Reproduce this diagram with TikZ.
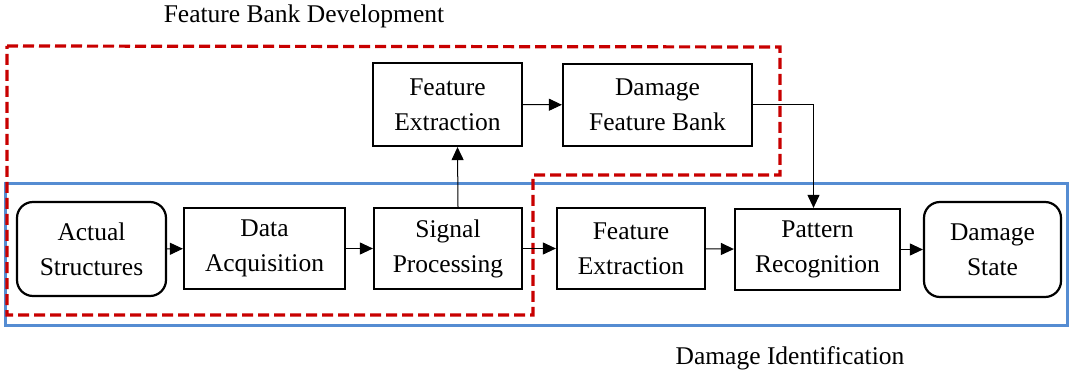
\documentclass[tikz,border=0pt]{standalone}
\usepackage{fontspec}
\setmainfont{Liberation Serif}
\usetikzlibrary{arrows.meta}
\begin{document}
\begin{tikzpicture}[x=1pt,y=-1pt,
  box/.style={draw=black,line width=2.2pt,fill=white,align=center,inner sep=0pt,
    font=\fontsize{25.5}{35}\selectfont},
  rbox/.style={box,rounded corners=16pt},
  arr/.style={-{Triangle[length=13pt,width=12pt]},line width=1pt,black},
  lbl/.style={font=\fontsize{25.5}{30}\selectfont,inner sep=0pt}]
\useasboundingbox (0,0) rectangle (1069,374);
% groups
\draw[line width=3pt,draw={rgb,255:red,85;green,140;blue,210}] (5,184) rectangle (1067,325);
\draw[line width=3.2pt,draw={rgb,255:red,200;green,0;blue,0},dash pattern=on 11pt off 5pt]
  (7,46) -- (780,47) -- (780,175) -- (533,175) -- (533,315) -- (7,315) -- cycle;
% nodes
\node[rbox,minimum width=149pt,minimum height=94pt] (as) at (91.5,249) {Actual\\Structures};
\node[box,minimum width=161pt,minimum height=81pt] (da) at (264.5,248.5) {Data\\Acquisition};
\node[box,minimum width=148pt,minimum height=81pt] (sp) at (448,248.5) {Signal\\Processing};
\node[box,minimum width=148pt,minimum height=81pt] (fe2) at (631,248.5) {Feature\\Extraction};
\node[box,minimum width=165pt,minimum height=81pt] (pr) at (817.5,249.5) {Pattern\\Recognition};
\node[rbox,minimum width=137pt,minimum height=95pt] (ds) at (992.5,249.5) {Damage\\State};
\node[box,minimum width=149pt,minimum height=83pt] (fe1) at (447.5,104.5) {Feature\\Extraction};
\node[box,minimum width=189pt,minimum height=82pt] (dfb) at (657.5,105) {Damage\\Feature Bank};
% labels
\node[lbl] (t1) at (304,16) {Feature Bank Development};
\node[lbl] (t2) at (790,358) {Damage Identification};
% connectors
\draw[arr] (as) -- (da);
\draw[arr] (da) -- (sp);
\draw[arr] (sp) -- (fe2);
\draw[arr] (fe2) -- (pr);
\draw[arr] (pr) -- (ds);
\draw[arr] ([xshift=10pt]sp.north) -- ([xshift=10pt]fe1.south);
\draw[arr] (fe1) -- (dfb);
\draw[arr] (dfb.east) -| ([xshift=-4pt]pr.north);
\end{tikzpicture}
\end{document}
